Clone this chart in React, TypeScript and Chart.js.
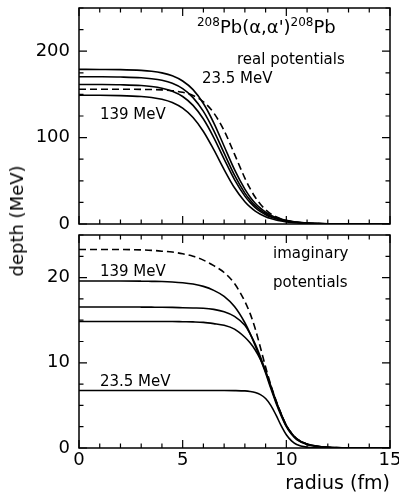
import React, { useEffect, useRef } from "react";
import { Chart, registerables } from "chart.js";
Chart.register(...registerables);

// radius grid (fm)
const radius = [0, 1, 2, 3, 3.5, 4, 4.5, 5, 5.5, 6, 6.5, 7, 7.5, 8, 8.25, 8.5, 8.75, 9, 9.25, 9.5, 9.75, 10, 10.25, 10.5, 11, 11.5, 12, 13, 14, 15];

// real potentials (MeV)
const real139 = [149, 149, 148.6, 147.6, 146.5, 144.4, 140.6, 134.0, 123.2, 107.1, 86.0, 63.0, 41.9, 25.8, 19.8, 15.0, 11.3, 8.4, 6.27, 4.6, 3.43, 2.5, 1.85, 1.36, 0.73, 0.39, 0.21, 0.06, 0.02, 0];
const realB = [161.5, 161.4, 161.1, 160.3, 159.2, 157.2, 153.7, 147.6, 137.3, 121.5, 100.1, 75.2, 51.4, 32.3, 25.0, 19.0, 14.4, 10.8, 8.03, 6.0, 4.4, 3.24, 2.39, 1.75, 0.94, 0.51, 0.27, 0.08, 0.02, 0];
const realC = [170.5, 170.4, 170.1, 169.3, 168.2, 166.3, 162.8, 156.6, 146.3, 130.3, 108.1, 82.0, 56.6, 35.8, 27.8, 21.2, 16.1, 12.1, 9.0, 6.7, 4.94, 3.64, 2.68, 1.97, 1.06, 0.57, 0.31, 0.09, 0.02, 0];
const real23 = [179, 178.9, 178.7, 177.8, 176.8, 174.9, 171.6, 165.5, 155.5, 139.5, 117.1, 90.0, 62.9, 40.3, 31.3, 24.1, 18.3, 13.7, 10.3, 7.6, 5.65, 4.16, 3.07, 2.25, 1.21, 0.65, 0.35, 0.1, 0.03, 0];
const realDashed = [156, 156, 156, 155.8, 155.6, 155.2, 154.3, 152.4, 148.7, 141.5, 128.5, 108.0, 80.9, 53.1, 41.1, 30.9, 22.8, 16.6, 11.8, 8.4, 5.9, 4.15, 2.9, 2.0, 0.97, 0.47, 0.22, 0.05, 0.01, 0];

// imaginary potentials (MeV)
const imag139 = [19.6, 19.6, 19.6, 19.58, 19.56, 19.54, 19.49, 19.4, 19.24, 18.97, 18.5, 17.8, 16.6, 14.7, 13.45, 12.0, 10.45, 8.8, 7.0, 5.3, 3.8, 2.5, 1.6, 1.0, 0.42, 0.18, 0.08, 0.01, 0, 0];
const imagB = [16.55, 16.55, 16.55, 16.54, 16.53, 16.52, 16.5, 16.47, 16.44, 16.41, 16.27, 15.99, 15.45, 14.4, 13.4, 12.2, 10.7, 9.0, 7.2, 5.45, 3.95, 2.6, 1.7, 1.05, 0.45, 0.2, 0.09, 0.015, 0, 0];
const imagC = [14.85, 14.85, 14.85, 14.85, 14.85, 14.84, 14.84, 14.82, 14.8, 14.75, 14.6, 14.4, 13.95, 13.0, 12.35, 11.5, 10.4, 9.0, 7.3, 5.55, 4.0, 2.65, 1.72, 1.07, 0.46, 0.2, 0.09, 0.015, 0, 0];
const imag23 = [6.75, 6.75, 6.75, 6.75, 6.75, 6.75, 6.75, 6.75, 6.75, 6.75, 6.75, 6.75, 6.74, 6.70, 6.64, 6.52, 6.27, 5.81, 5.01, 3.88, 2.62, 1.55, 0.83, 0.41, 0.096, 0.02, 0, 0, 0, 0];
const imagDashed = [23.3, 23.3, 23.3, 23.25, 23.2, 23.1, 23.0, 22.8, 22.5, 22.05, 21.4, 20.6, 19.3, 17.2, 15.8, 14.0, 11.8, 9.5, 7.4, 5.6, 4.0, 2.65, 1.75, 1.1, 0.45, 0.2, 0.09, 0.015, 0, 0];

const xTicks = { min: 0, max: 15, step: 1, major: 5 };
const realTicks = { min: 0, max: 250, step: 25, major: 100 };
const imagTicks = { min: 0, max: 25, step: 2.5, major: 10 };

const FONT = "'DejaVu Sans', 'Liberation Sans', sans-serif";

type Seg = { t: string; sup?: boolean };
type Note = { x: number; y: number; segs: Seg[]; size: number };

const topNotes: Note[] = [
  { x: 5.69, y: 226, size: 18, segs: [{ t: "208", sup: true }, { t: "Pb(α,α')" }, { t: "208", sup: true }, { t: "Pb" }] },
  { x: 7.62, y: 189.5, size: 15, segs: [{ t: "real potentials" }] },
  { x: 5.93, y: 167.5, size: 15, segs: [{ t: "23.5 MeV" }] },
  { x: 1.01, y: 126, size: 15, segs: [{ t: "139 MeV" }] },
];
const bottomNotes: Note[] = [
  { x: 9.36, y: 22.7, size: 15, segs: [{ t: "imaginary" }] },
  { x: 9.36, y: 19.4, size: 15, segs: [{ t: "potentials" }] },
  { x: 1.01, y: 20.6, size: 15, segs: [{ t: "139 MeV" }] },
  { x: 1.01, y: 7.76, size: 15, segs: [{ t: "23.5 MeV" }] },
];

const isMajor = (v: number, m: number) => Math.abs(v / m - Math.round(v / m)) < 1e-6;

const framePlugin = {
  id: "frame",
  afterDatasetsDraw(chart: any, _args: any, opts: any) {
    const { ctx, chartArea: a, scales } = chart;
    const xs = scales.x, ys = scales.y;
    ctx.save();
    ctx.strokeStyle = "#000";
    ctx.lineWidth = 1.5;
    ctx.strokeRect(a.left, a.top, a.right - a.left, a.bottom - a.top);
    ctx.lineWidth = 1.2;
    ctx.beginPath();
    xs.ticks.forEach((t: any) => {
      const p = xs.getPixelForValue(t.value);
      const L = isMajor(t.value, opts.xMajor) ? 8 : 4.5;
      ctx.moveTo(p, a.bottom); ctx.lineTo(p, a.bottom - L);
      ctx.moveTo(p, a.top); ctx.lineTo(p, a.top + L);
    });
    ys.ticks.forEach((t: any) => {
      const p = ys.getPixelForValue(t.value);
      const L = isMajor(t.value, opts.yMajor) ? 8 : 4.5;
      ctx.moveTo(a.left, p); ctx.lineTo(a.left + L, p);
      ctx.moveTo(a.right, p); ctx.lineTo(a.right - L, p);
    });
    ctx.stroke();
    ctx.fillStyle = "#000";
    ctx.textBaseline = "middle";
    ctx.textAlign = "left";
    (opts.notes as Note[]).forEach((n) => {
      let px = xs.getPixelForValue(n.x);
      const py = ys.getPixelForValue(n.y);
      n.segs.forEach((s) => {
        const size = s.sup ? Math.round(n.size * 0.65) : n.size;
        ctx.font = `${size}px ${FONT}`;
        ctx.fillText(s.t, px, s.sup ? py - n.size * 0.35 : py);
        px += ctx.measureText(s.t).width;
      });
    });
    ctx.restore();
  },
};

function makeSets(series: number[][], dashedIndex: number) {
  return series.map((s, i) => ({
    data: radius.map((r, j) => ({ x: r, y: s[j] })),
    borderColor: "#000",
    borderWidth: 1.6,
    pointRadius: 0,
    fill: false,
    cubicInterpolationMode: "monotone" as const,
    borderDash: i === dashedIndex ? [7, 4] : [],
  }));
}

function Panel(props: { top: number; height: number; series: number[][]; yt: any; notes: Note[]; pad: any; xHeight: number; showX: boolean }) {
  const ref = useRef<HTMLCanvasElement>(null);
  useEffect(() => {
    const tickFont = { family: FONT, size: 18 };
    const chart = new Chart(ref.current as HTMLCanvasElement, {
      type: "line",
      data: { datasets: makeSets(props.series, 4) as any },
      plugins: [framePlugin],
      options: {
        animation: false,
        responsive: true,
        maintainAspectRatio: false,
        layout: { padding: props.pad },
        plugins: {
          legend: { display: false },
          tooltip: { enabled: false },
          frame: { xMajor: xTicks.major, yMajor: props.yt.major, notes: props.notes },
        } as any,
        scales: {
          x: {
            type: "linear",
            min: xTicks.min,
            max: xTicks.max,
            grid: { display: false, drawTicks: false },
            border: { display: false },
            ticks: {
              display: props.showX,
              stepSize: xTicks.step,
              autoSkip: false,
              maxRotation: 0,
              includeBounds: false,
              padding: 2,
              color: "#000",
              font: tickFont,
              callback: (v: any) => (isMajor(Number(v), xTicks.major) ? String(v) : ""),
            },
            title: {
              display: props.showX,
              text: "radius (fm)",
              align: "end",
              color: "#000",
              font: { family: FONT, size: 19 },
              padding: { top: 0, bottom: 0 },
            },
            afterFit: (s: any) => { s.height = props.xHeight; s.paddingLeft = 0; s.paddingRight = 0; },
          },
          y: {
            type: "linear",
            min: props.yt.min,
            max: props.yt.max,
            grid: { display: false, drawTicks: false },
            border: { display: false },
            ticks: {
              stepSize: props.yt.step,
              autoSkip: false,
              includeBounds: false,
              padding: 9,
              color: "#000",
              font: tickFont,
              callback: (v: any) => (isMajor(Number(v), props.yt.major) ? String(v) : ""),
            },
            afterFit: (s: any) => { s.width = 79; s.paddingTop = 0; s.paddingBottom = 0; },
          },
        },
      } as any,
    });
    return () => chart.destroy();
  }, []);
  return (
    <div style={{ position: "absolute", left: 0, top: props.top, width: 399, height: props.height }}>
      <canvas ref={ref} />
    </div>
  );
}

export default function App() {
  return (
    <div style={{ position: "fixed", left: 0, top: 0, width: 399, height: 495, background: "#fff", overflow: "hidden" }}>
      <Panel
        top={0}
        height={232}
        series={[real139, realB, realC, real23, realDashed]}
        yt={realTicks}
        notes={topNotes}
        pad={{ top: 8, right: 9, bottom: 0, left: 0 }}
        xHeight={8}
        showX={false}
      />
      <Panel
        top={226}
        height={269}
        series={[imag139, imagB, imagC, imag23, imagDashed]}
        yt={imagTicks}
        notes={bottomNotes}
        pad={{ top: 9, right: 9, bottom: 0, left: 0 }}
        xHeight={47}
        showX={true}
      />
      <div
        style={{
          position: "absolute",
          left: 17,
          top: 221,
          transform: "translate(-50%, -50%) rotate(-90deg)",
          whiteSpace: "nowrap",
          fontFamily: FONT,
          fontSize: 18,
          color: "#000",
          lineHeight: 1,
        }}
      >
        depth (MeV)
      </div>
    </div>
  );
}
